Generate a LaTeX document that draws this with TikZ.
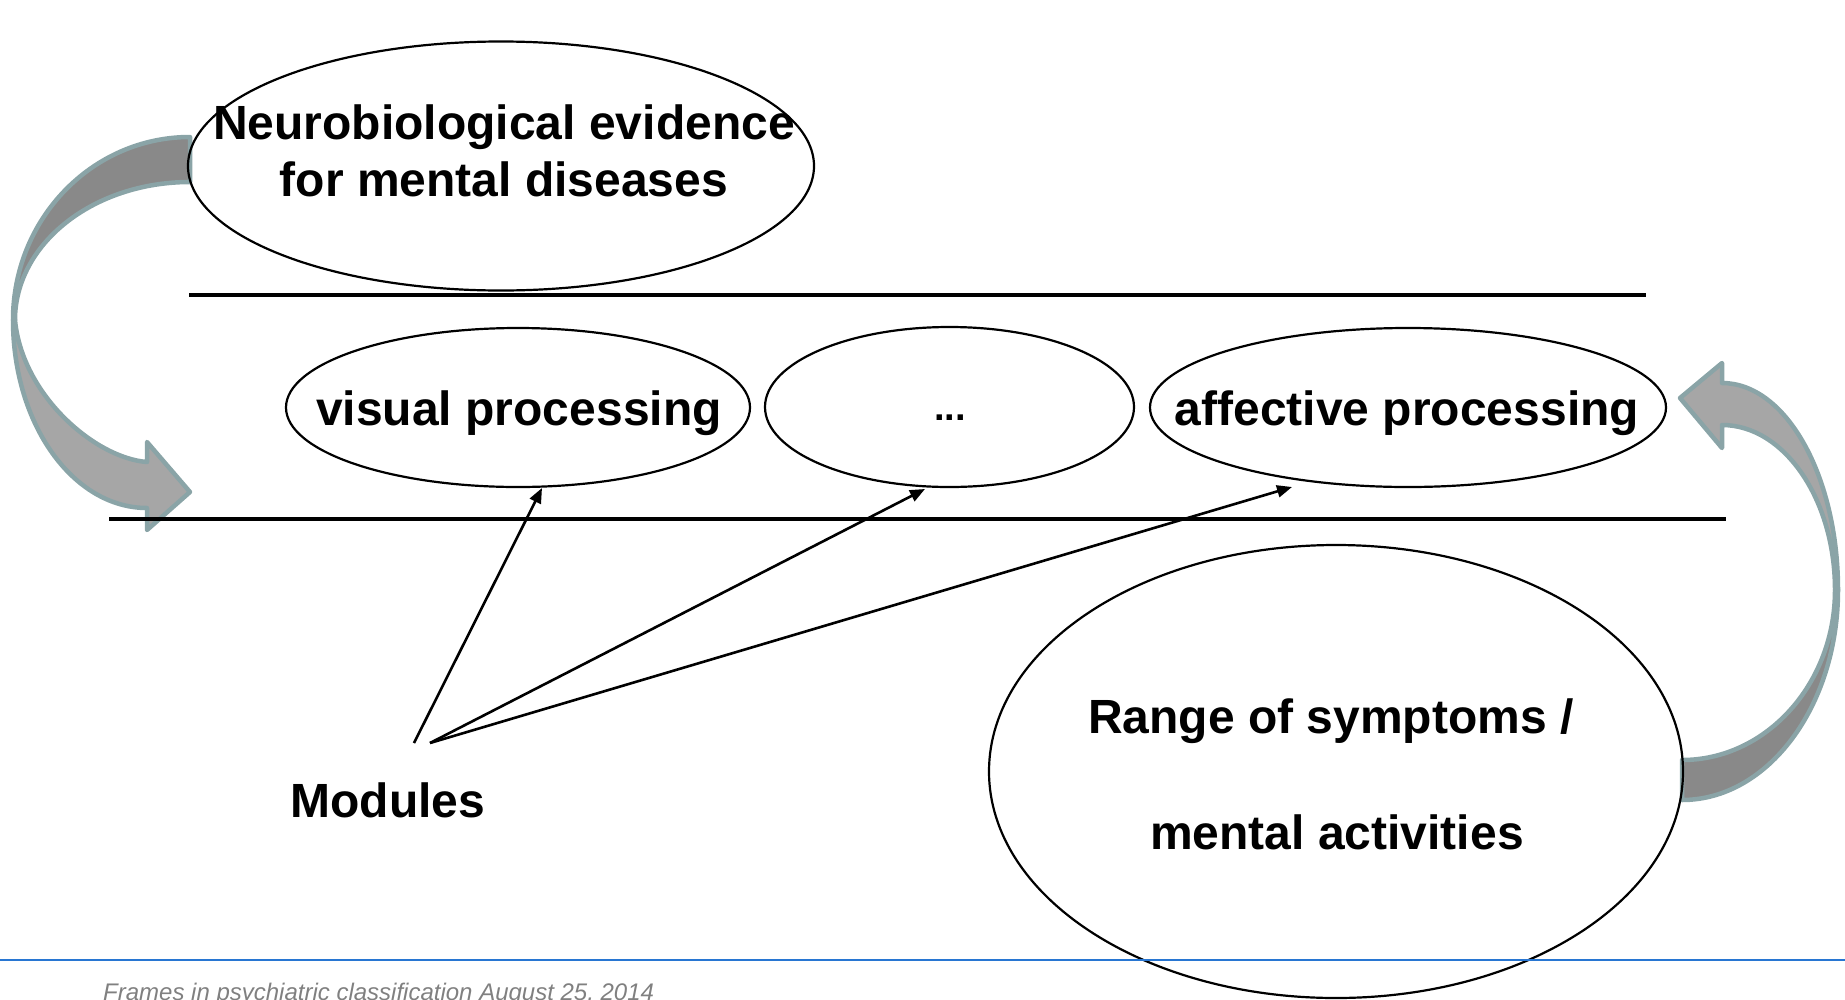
\documentclass[tikz,border=0pt]{standalone}
\usepackage{fontspec}
\setmainfont{Liberation Sans}
\usetikzlibrary{shapes.geometric,arrows.meta,calc}
\definecolor{bandedge}{RGB}{138,164,167}
\definecolor{banddark}{RGB}{137,137,137}
\definecolor{bandlight}{RGB}{166,166,166}
\definecolor{rulecolor}{RGB}{40,118,210}
\definecolor{footgray}{RGB}{128,128,128}
\begin{document}
\begin{tikzpicture}[x=1pt,y=-1pt,
  oval/.style={draw=black, line width=2.2pt, ellipse, inner sep=0pt},
  bigtext/.style={font=\fontsize{48}{56}\selectfont\bfseries, anchor=base, inner sep=0pt},
  band/.style={draw=bandedge, line width=4.5pt, line join=round},
  rule/.style={line width=3.5pt},
  pointer/.style={line width=2.6pt, -{Triangle[length=15pt,width=12pt]}}
]
\useasboundingbox (0,0) rectangle (1845,999);

% left curved arrow: back band, then front band with its head
\path[band, fill=banddark] (190,137) .. controls (92,137) and (13,219) .. (13,320)
  -- (15,320) .. controls (15,244) and (93,182) .. (190,182) -- cycle;
\path[band, fill=bandlight] (13,320) .. controls (13,424) and (73,508) .. (147,508)
  -- (147,530) -- (190,492) -- (147,442) -- (147,462)
  .. controls (95,458) and (22,395) .. (15,320) -- cycle;

% right curved arrow: back band, then front band with its head
\path[band, fill=banddark] (1682,800) .. controls (1768,800) and (1838,706) .. (1838,590)
  -- (1835,590) .. controls (1835,684) and (1766,760) .. (1682,760) -- cycle;
\path[band, fill=bandlight] (1838,590) .. controls (1838,476) and (1786,383) .. (1722,383)
  -- (1722,363) -- (1680,398) -- (1722,448) -- (1722,425)
  .. controls (1784,425) and (1835,499) .. (1835,590) -- cycle;

% horizontal rules framing the module row
\coordinate (r1a) at (189,295);
\coordinate (r1b) at (1646,295);
\coordinate (r2a) at (109,519);
\coordinate (r2b) at (1726,519);
\draw[rule] (r1a) -- (r1b);
\draw[rule] (r2a) -- (r2b);

% ellipses
\node[oval, minimum width=626pt, minimum height=249pt] (evid) at (501,166) {};
\node[oval, minimum width=464pt, minimum height=159pt] (visual) at (518,407.5) {};
\node[oval, minimum width=369pt, minimum height=160pt] (dots) at (949.5,407) {};
\node[oval, minimum width=516pt, minimum height=159pt] (affect) at (1408,407.5) {};
\node[oval, minimum width=694pt, minimum height=453pt] (range) at (1336,771.5) {};

% labels
\node[bigtext] (evidtxt1) at (504,139.5) {Neurobiological evidence};
\node[bigtext] (evidtxt2) at (504,196) {for mental diseases};
\node[bigtext] (visualtxt) at (519,425) {visual processing};
\node[font=\fontsize{38}{44}\selectfont\bfseries, anchor=base, inner sep=0pt] (dotstxt) at (950,420) {...};
\node[bigtext] (affecttxt) at (1407,425) {affective processing};
\node[bigtext] (rangetxt1) at (1331,733) {Range of symptoms /};
\node[bigtext] (rangetxt2) at (1337,849) {mental activities};
\node[bigtext] (modules) at (388,817) {Modules};

% pointers from the Modules label to the module ellipses
\coordinate (m1) at (414,743);
\coordinate (m2) at (430,743);
\draw[pointer] (m1) -- ($(visual.center)+(24,80.5)$);
\draw[pointer] (m2) -- ($(dots.center)+(-24.5,82)$);
\draw[pointer] (m2) -- ($(affect.center)+(-116,79.5)$);

% footer
\coordinate (fa) at (0,960);
\coordinate (fb) at (1845,960);
\draw[line width=2.5pt, rulecolor] (fa) -- (fb);
\node[anchor=base west, inner sep=0pt, text=footgray, font=\fontsize{24}{28}\selectfont\itshape] (footer) at (103,1000) {Frames in psychiatric classification August 25, 2014};
\end{tikzpicture}
\end{document}
